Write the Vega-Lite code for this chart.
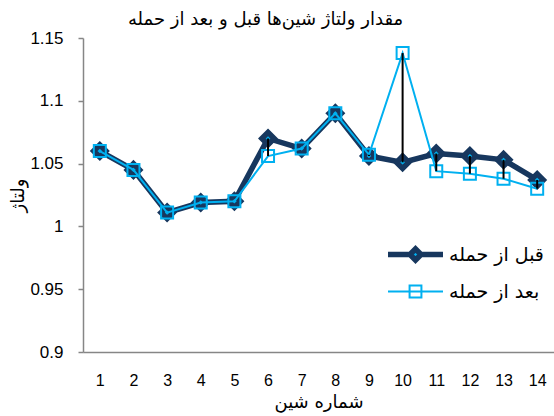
{
  "$schema": "https://vega.github.io/schema/vega-lite/v6.json",
  "width": 471,
  "height": 314,
  "autosize": {"type": "none"},
  "padding": {"left": 83, "top": 38, "right": 0, "bottom": 64},
  "background": "white",
  "config": {
    "view": {"stroke": null},
    "axis": {"grid": false},
    "legend": {
      "orient": "none",
      "legendX": 311,
      "legendY": 195,
      "title": null,
      "symbolSize": 1369,
      "rowPadding": -2,
      "labelFont": "DejaVu Sans",
      "labelFontSize": 19,
      "labelColor": "black",
      "labelOffset": 12,
      "padding": 0
    }
  },
  "title": {
    "text": "مقدار ولتاژ شین‌ها قبل و بعد از حمله",
    "font": "DejaVu Sans",
    "fontSize": 18,
    "fontWeight": "normal",
    "color": "black",
    "anchor": "middle",
    "dx": -53,
    "offset": 0
  },
  "data": {
    "values": [
      {"bus": 1, "before": 1.06, "after": 1.06},
      {"bus": 2, "before": 1.045, "after": 1.045},
      {"bus": 3, "before": 1.011, "after": 1.011},
      {"bus": 4, "before": 1.019, "after": 1.019},
      {"bus": 5, "before": 1.02, "after": 1.02},
      {"bus": 6, "before": 1.07, "after": 1.056},
      {"bus": 7, "before": 1.062, "after": 1.062},
      {"bus": 8, "before": 1.09, "after": 1.09},
      {"bus": 9, "before": 1.056, "after": 1.057},
      {"bus": 10, "before": 1.051, "after": 1.138},
      {"bus": 11, "before": 1.058, "after": 1.044},
      {"bus": 12, "before": 1.056, "after": 1.042},
      {"bus": 13, "before": 1.053, "after": 1.038},
      {"bus": 14, "before": 1.037, "after": 1.03}
    ]
  },
  "encoding": {
    "x": {
      "field": "bus",
      "type": "ordinal",
      "scale": {"type": "point", "padding": 0.5},
      "axis": {
        "title": "شماره شین",
        "titleFont": "DejaVu Sans",
        "titleFontSize": 18,
        "titleFontWeight": "normal",
        "titleColor": "black",
        "titlePadding": 5,
        "labelAngle": 0,
        "labelFont": "Liberation Sans",
        "labelFontSize": 16,
        "labelColor": "black",
        "labelPadding": 20,
        "ticks": false,
        "domainColor": "#868686",
        "domainWidth": 1.5
      }
    }
  },
  "layer": [
    {
      "mark": {"type": "line", "color": "#17375e", "strokeWidth": 5.5},
      "encoding": {
        "y": {
          "field": "before",
          "type": "quantitative",
          "scale": {"domain": [0.9, 1.15], "nice": false, "zero": false},
          "axis": {
            "title": "ولتاژ",
            "titleFont": "DejaVu Sans",
            "titleFontSize": 18,
            "titleFontWeight": "normal",
            "titleColor": "black",
            "titlePadding": 2,
            "values": [0.9, 0.95, 1, 1.05, 1.1, 1.15],
            "format": ".2~f",
            "labelFont": "Liberation Sans",
            "labelFontSize": 17,
            "labelColor": "black",
            "labelPadding": 15,
            "tickSize": 5,
            "tickColor": "#868686",
            "tickWidth": 1.5,
            "domainColor": "#868686",
            "domainWidth": 1.5
          }
        }
      }
    },
    {
      "mark": {"type": "point", "shape": "diamond", "size": 150, "filled": true, "fill": "#00b0f0", "stroke": "#17375e", "strokeWidth": 5.5, "opacity": 1},
      "encoding": {"y": {"field": "before", "type": "quantitative"}}
    },
    {
      "mark": {"type": "line", "color": "#00b0f0", "strokeWidth": 2},
      "encoding": {"y": {"field": "after", "type": "quantitative"}}
    },
    {
      "mark": {"type": "point", "shape": "square", "size": 144, "filled": false, "stroke": "#00b0f0", "strokeWidth": 2, "opacity": 1},
      "encoding": {"y": {"field": "after", "type": "quantitative"}}
    },
    {
      "mark": {"type": "rule", "color": "black", "strokeWidth": 2},
      "encoding": {
        "y": {"field": "before", "type": "quantitative"},
        "y2": {"field": "after"}
      }
    },
    {
      "transform": [
        {"fold": ["before", "after"], "as": ["series", "v"]},
        {"filter": "false"}
      ],
      "mark": {"type": "point", "filled": true, "opacity": 1},
      "encoding": {
        "shape": {
          "field": "series", "type": "nominal",
          "scale": {"domain": ["before", "after"], "range": ["M-1.486,0L-0.3,0M0.3,0L1.486,0M0,-0.3L0.3,0L0,0.3L-0.3,0Z", "M-1.486,0L1.486,0M-0.32,-0.32L0.32,-0.32L0.32,0.32L-0.32,0.32Z"]},
          "legend": {"labelExpr": "datum.label == 'before' ? 'قبل از حمله' : 'بعد از حمله'"}
        },
        "fill": {
          "field": "series", "type": "nominal",
          "scale": {"domain": ["before", "after"], "range": ["#00b0f0", "transparent"]},
          "legend": {"labelExpr": "datum.label == 'before' ? 'قبل از حمله' : 'بعد از حمله'"}
        },
        "stroke": {
          "field": "series", "type": "nominal",
          "scale": {"domain": ["before", "after"], "range": ["#17375e", "#00b0f0"]},
          "legend": {"labelExpr": "datum.label == 'before' ? 'قبل از حمله' : 'بعد از حمله'"}
        },
        "strokeWidth": {
          "field": "series", "type": "nominal",
          "scale": {"type": "ordinal", "domain": ["before", "after"], "range": [5.5, 2]},
          "legend": {"labelExpr": "datum.label == 'before' ? 'قبل از حمله' : 'بعد از حمله'"}
        }
      }
    }
  ]
}
